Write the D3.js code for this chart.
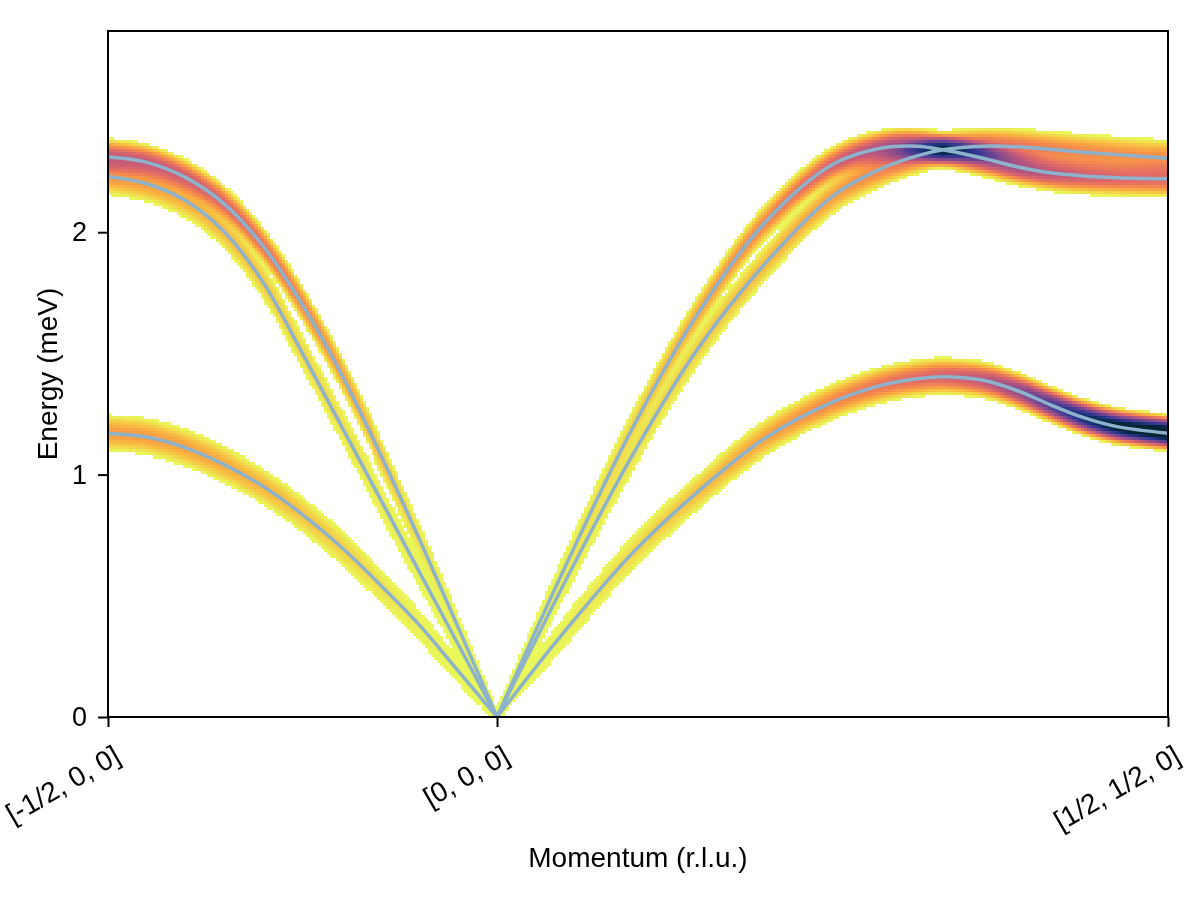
<!DOCTYPE html>
<html><head><meta charset="utf-8">
<script src="https://cdn.jsdelivr.net/npm/d3@7"></script>
<style>
body{margin:0;background:#fff;}
#wrap{position:relative;width:1200px;height:900px;overflow:hidden;}
#wrap canvas,#wrap svg{position:absolute;left:0;top:0;}
text{font-family:"Liberation Sans", Arial, Helvetica, sans-serif;fill:#000;}
</style></head><body><div id="wrap"></div>
<script>
// ---------------- data ----------------
const tickLabels = ["[-1/2, 0, 0]", "[0, 0, 0]", "[1/2, 1/2, 0]"];
const tickPos = [0, 0.367, 1];
const yTickValues = [0, 1, 2];
const yMax = 2.83;

const qLeft = [0, 0.0367, 0.0734, 0.1101, 0.1468, 0.1835, 0.2202, 0.2569, 0.2936, 0.3303, 0.367];
const energyU1 = [2.31, 2.288, 2.225, 2.115, 1.94, 1.70, 1.415, 1.085, 0.735, 0.37, 0];
const energyU2 = [2.23, 2.20, 2.13, 2.00, 1.79, 1.50, 1.20, 0.90, 0.60, 0.30, 0];
const energyL1 = [1.17, 1.155, 1.11, 1.04, 0.95, 0.835, 0.70, 0.545, 0.38, 0.19, 0];
const intensU1 = [0.44, 0.43, 0.40, 0.36, 0.31, 0.25, 0.18, 0.11, 0.05, 0.012, 0.0015];
const intensU2 = [0.20, 0.18, 0.15, 0.12, 0.095, 0.07, 0.05, 0.03, 0.016, 0.006, 0.0015];
const intensL1 = [0.19, 0.185, 0.17, 0.15, 0.13, 0.10, 0.075, 0.045, 0.02, 0.007, 0.0015];

const qRight = [0.367, 0.3981, 0.4302, 0.4934, 0.5566, 0.6198, 0.6840, 0.7311, 0.7632, 0.7877, 0.8255, 0.8575, 0.8887, 0.9198, 0.9519, 1];
const energyA = [0, 0.303, 0.61, 1.18, 1.665, 2.04, 2.28, 2.348, 2.355, 2.34, 2.305, 2.27, 2.245, 2.232, 2.225, 2.22];
const energyB = [0, 0.27, 0.55, 1.07, 1.52, 1.87, 2.15, 2.265, 2.315, 2.34, 2.355, 2.352, 2.342, 2.33, 2.32, 2.305];
const energyL2 = [0, 0.175, 0.35, 0.67, 0.93, 1.15, 1.30, 1.37, 1.395, 1.404, 1.389, 1.347, 1.289, 1.236, 1.198, 1.171];
const intensA = [0.0015, 0.007, 0.022, 0.075, 0.16, 0.25, 0.38, 0.52, 0.57, 0.57, 0.56, 0.52, 0.46, 0.4, 0.36, 0.34];
const intensB = [0.0015, 0.005, 0.016, 0.045, 0.08, 0.12, 0.18, 0.26, 0.36, 0.45, 0.36, 0.3, 0.26, 0.24, 0.22, 0.22];
const intensL2 = [0.0015, 0.005, 0.018, 0.06, 0.11, 0.17, 0.24, 0.3, 0.34, 0.37, 0.45, 0.58, 0.75, 0.92, 1.05, 1.15];

// cmocean "thermal" (dark -> yellow); drawn reversed
const thermalStops = ["#042333","#0e2f65","#2a3592","#4a3b96","#6a4493","#8a4c8c","#aa5483","#c95c77","#e26a66","#f28352","#fba441","#f7c942","#e8fa5b"];

// ---------------- layout ----------------
const W = 1200, H = 900;
const L = 108, R = 1168, T = 31, B = 717;
const x = d3.scaleLinear().domain([0, 1]).range([L, R]);
const y = d3.scaleLinear().domain([0, yMax]).range([B, T]);
const halfWidth = 0.082;          // energy broadening half-width
const visThreshold = 0.0025;      // below this the cell is left blank
const nCols = 354, dE = 0.0124;   // heatmap grid

const bands = [
  {q: qLeft, e: energyU1, w: intensU1},
  {q: qLeft, e: energyU2, w: intensU2},
  {q: qLeft, e: energyL1, w: intensL1},
  {q: qRight, e: energyA, w: intensA},
  {q: qRight, e: energyB, w: intensB},
  {q: qRight, e: energyL2, w: intensL2}
];

const wrap = d3.select("#wrap");
const canvas = wrap.append("canvas").attr("width", W).attr("height", H).node();
const svg = wrap.append("svg").attr("width", W).attr("height", H);

svg.append("defs").append("clipPath").attr("id", "clip")
  .append("rect").attr("x", L).attr("y", T).attr("width", R - L).attr("height", B - T);

const lineGen = d3.line().x(d => x(d[0])).y(d => y(d[1])).curve(d3.curveCatmullRom.alpha(0.5));
const gLines = svg.append("g").attr("clip-path", "url(#clip)");
bands.forEach(b => {
  const pts = b.q.map((q, i) => [q, b.e[i]]);
  b.path = gLines.append("path").datum(pts).attr("d", lineGen)
    .attr("fill", "none").attr("stroke", "#8cb3cb").attr("stroke-width", 3.5)
    .attr("stroke-linejoin", "round").node();
  const len = b.path.getTotalLength();
  const N = 2000, xs = [], ys = [];
  for (let i = 0; i <= N; i++) {
    const p = b.path.getPointAtLength(len * i / N);
    xs.push(p.x); ys.push(p.y);
  }
  b.xs = xs; b.ys = ys;
  b.wScale = d3.scaleLinear().domain(b.q).range(b.w).clamp(true);
});
function bandEnergyAt(b, px) {
  const xs = b.xs;
  if (px < xs[0] - 1e-6 || px > xs[xs.length - 1] + 1e-6) return null;
  let i = d3.bisectLeft(xs, px);
  if (i <= 0) return y.invert(b.ys[0]);
  if (i >= xs.length) return y.invert(b.ys[xs.length - 1]);
  const x0 = xs[i - 1], x1 = xs[i];
  const t = x1 === x0 ? 0 : (px - x0) / (x1 - x0);
  return y.invert(b.ys[i - 1] + t * (b.ys[i] - b.ys[i - 1]));
}

// ---------------- heatmap ----------------
const thermal = d3.interpolateRgbBasis(thermalStops);
const color = v => thermal(1 - Math.max(0, Math.min(1, v)));
const ctx = canvas.getContext("2d");
const nRows = Math.ceil(yMax / dE);
for (let c = 0; c < nCols; c++) {
  const s = (c + 0.5) / nCols;
  const px = x(s);
  const active = [];
  bands.forEach(b => {
    if (s < b.q[0] || s > b.q[b.q.length - 1]) return;
    const e = bandEnergyAt(b, px);
    if (e !== null) active.push([e, b.wScale(s)]);
  });
  if (!active.length) continue;
  const X0 = Math.round(x(c / nCols)), X1 = Math.round(x((c + 1) / nCols));
  for (let r = 0; r < nRows; r++) {
    const ec = (r + 0.5) * dE;
    let v = 0;
    active.forEach(([e, w]) => {
      const d = Math.abs(ec - e) / halfWidth;
      if (d < 1) { const k = 1 - d * d; v += w * k * k; }
    });
    if (v <= visThreshold) continue;
    const Y0 = Math.round(y(Math.min(yMax, (r + 1) * dE))), Y1 = Math.round(y(r * dE));
    ctx.fillStyle = color(v);
    ctx.fillRect(X0, Y0, X1 - X0, Y1 - Y0);
  }
}

// ---------------- axes ----------------
const fontTick = 27, fontLabel = 28;
svg.append("rect").attr("x", L).attr("y", T).attr("width", R - L).attr("height", B - T)
  .attr("fill", "none").attr("stroke", "#000").attr("stroke-width", 2);

const xAxis = svg.append("g").attr("transform", `translate(0,${B})`)
  .call(d3.axisBottom(x).tickValues(tickPos).tickFormat((d, i) => tickLabels[i]).tickSize(10).tickSizeOuter(0));
xAxis.select(".domain").remove();
xAxis.selectAll(".tick line").attr("stroke", "#000").attr("stroke-width", 2);
xAxis.selectAll(".tick text")
  .attr("font-size", 28).attr("font-family", "Liberation Sans, Arial, sans-serif")
  .attr("text-anchor", "end").attr("dominant-baseline", "central")
  .attr("y", null).attr("dy", null)
  .attr("transform", "translate(9,36) rotate(-30)");

const yAxis = svg.append("g").attr("transform", `translate(${L},0)`)
  .call(d3.axisLeft(y).tickValues(yTickValues).tickFormat(d3.format("d")).tickSize(10).tickPadding(11).tickSizeOuter(0));
yAxis.select(".domain").remove();
yAxis.selectAll(".tick line").attr("stroke", "#000").attr("stroke-width", 2);
yAxis.selectAll(".tick text").attr("font-size", fontTick).attr("font-family", "Liberation Sans, Arial, sans-serif");

svg.append("text").attr("x", (L + R) / 2).attr("y", 867).attr("text-anchor", "middle")
  .attr("font-size", fontLabel).text("Momentum (r.l.u.)");
svg.append("text").attr("transform", `translate(57,${(T + B) / 2}) rotate(-90)`).attr("text-anchor", "middle")
  .attr("font-size", fontLabel).text("Energy (meV)");
</script></body></html>
